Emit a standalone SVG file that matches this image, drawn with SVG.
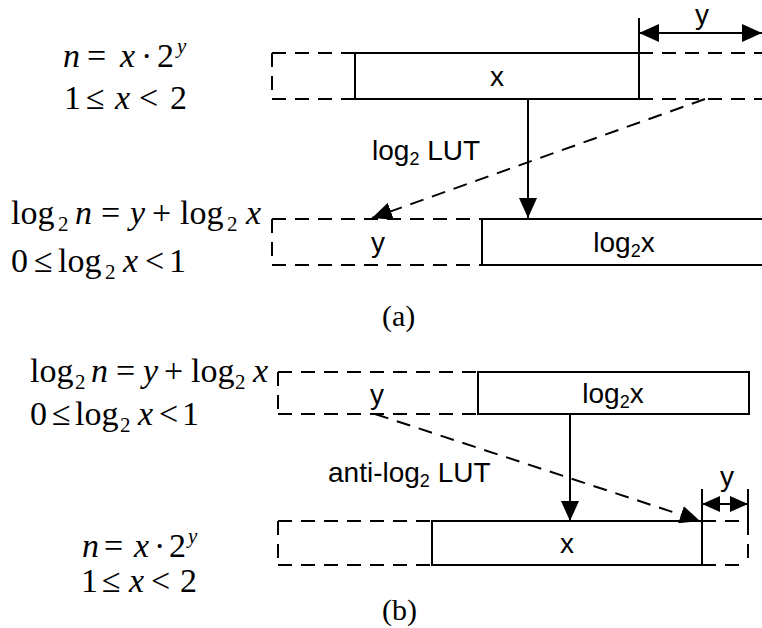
<svg xmlns="http://www.w3.org/2000/svg" width="762" height="628" viewBox="0 0 762 628">
<style>
.s{stroke:#000;stroke-width:2;fill:none}
.d{stroke:#000;stroke-width:2;fill:none;stroke-dasharray:14 9}
.eq{font-family:"Liberation Serif","Times New Roman",serif;font-size:34px;fill:#000}
.i{font-style:italic}
.sub{font-size:21px}
.sup{font-size:21px;font-style:italic}
.lb{font-family:"Liberation Sans",Arial,sans-serif;font-size:28px;fill:#000}
.lbs{font-size:18px}
.cap{font-family:"Liberation Serif","Noto Sans CJK JP",serif;font-size:30px;fill:#000}
</style>
<defs>
<marker id="ah" markerUnits="userSpaceOnUse" markerWidth="20" markerHeight="18" refX="20" refY="9" orient="auto-start-reverse"><path d="M0,0 L20,9 L0,18 z" fill="#000"/></marker>
<marker id="ahs" markerUnits="userSpaceOnUse" markerWidth="18" markerHeight="16" refX="18" refY="8" orient="auto-start-reverse"><path d="M0,0 L18,8 L0,16 z" fill="#000"/></marker>
</defs>

<g id="eq-a1">
<text class="eq" y="67"><tspan class="i" x="63">n</tspan><tspan x="87">=</tspan><tspan class="i" x="120">x</tspan><tspan x="141">·</tspan><tspan x="157">2</tspan><tspan class="sup" x="177" dy="-14">y</tspan></text>
<text class="eq" y="109"><tspan x="64">1</tspan><tspan x="86">≤</tspan><tspan class="i" x="115">x</tspan><tspan x="139">&lt;</tspan><tspan x="170">2</tspan></text>
</g>

<g id="reg-a-top">
<path class="d" d="M272,53 H355 M272,99 H355 M272,53 V99"/>
<rect class="s" x="355" y="53" width="284" height="46"/>
<path class="d" d="M639,53 H762 M639,99 H762"/>
<path class="s" d="M639,18 V99"/>
<text class="lb" x="497" y="86" text-anchor="middle">x</text>
<text class="lb" x="702" y="24" text-anchor="middle">y</text>
</g>

<g id="eq-a2">
<text class="eq" y="224"><tspan x="11">log</tspan><tspan class="sub" x="58" dy="7">2</tspan><tspan class="i" x="75" dy="-7">n</tspan><tspan x="101">=</tspan><tspan class="i" x="130">y</tspan><tspan x="152">+</tspan><tspan x="180">log</tspan><tspan class="sub" x="227" dy="7">2</tspan><tspan class="i" x="246" dy="-7">x</tspan></text>
<text class="eq" y="272"><tspan x="11">0</tspan><tspan x="34">≤</tspan><tspan x="58">log</tspan><tspan class="sub" x="105" dy="7">2</tspan><tspan class="i" x="123" dy="-7">x</tspan><tspan x="145">&lt;</tspan><tspan x="169">1</tspan></text>
</g>

<g id="reg-a-bot">
<path class="d" d="M272,219 H482 M272,265 H482 M272,219 V265"/>
<path class="s" d="M482,219 V265 M482,219 H762 M482,265 H762"/>
<text class="lb" x="378" y="252" text-anchor="middle">y</text>
<text class="lb" x="624" y="252" text-anchor="middle">log<tspan class="lbs" dy="5">2</tspan><tspan dy="-5">x</tspan></text>
</g>

<text class="lb" x="372" y="160">log<tspan class="lbs" dy="5">2</tspan><tspan dy="-5"> LUT</tspan></text>
<text class="cap" x="382" y="326">(a)</text>

<g id="eq-b1">
<text class="eq" y="382"><tspan x="30">log</tspan><tspan class="sub" x="75" dy="7">2</tspan><tspan class="i" x="91" dy="-7">n</tspan><tspan x="116">=</tspan><tspan class="i" x="143">y</tspan><tspan x="164">+</tspan><tspan x="191">log</tspan><tspan class="sub" x="235" dy="7">2</tspan><tspan class="i" x="253" dy="-7">x</tspan></text>
<text class="eq" y="425"><tspan x="30">0</tspan><tspan x="52">≤</tspan><tspan x="75">log</tspan><tspan class="sub" x="120" dy="7">2</tspan><tspan class="i" x="138" dy="-7">x</tspan><tspan x="159">&lt;</tspan><tspan x="182">1</tspan></text>
</g>

<g id="reg-b-top">
<path class="d" d="M278,372 H478 M278,414 H478 M278,372 V414"/>
<rect class="s" x="478" y="372" width="271" height="42"/>
<text class="lb" x="377" y="404" text-anchor="middle">y</text>
<text class="lb" x="613" y="403" text-anchor="middle">log<tspan class="lbs" dy="5">2</tspan><tspan dy="-5">x</tspan></text>
</g>

<text class="lb" x="328" y="482">anti-log<tspan class="lbs" dy="5">2</tspan><tspan dy="-5"> LUT</tspan></text>

<g id="eq-b2">
<text class="eq" y="557"><tspan class="i" x="82">n</tspan><tspan x="104">=</tspan><tspan class="i" x="134">x</tspan><tspan x="154">·</tspan><tspan x="169">2</tspan><tspan class="sup" x="188" dy="-14">y</tspan></text>
<text class="eq" y="592"><tspan x="81">1</tspan><tspan x="102">≤</tspan><tspan class="i" x="129">x</tspan><tspan x="151">&lt;</tspan><tspan x="180">2</tspan></text>
</g>

<g id="reg-b-bot">
<path class="d" d="M278,521 H432 M278,565 H432 M278,521 V565"/>
<rect class="s" x="432" y="521" width="270" height="44"/>
<path class="d" d="M702,521 H748 M702,565 H748 M748,521 V565"/>
<path class="s" d="M702,489 V521 M748,489 V521"/>
<text class="lb" x="727" y="486" text-anchor="middle">y</text>
<text class="lb" x="567" y="553" text-anchor="middle">x</text>
</g>

<text class="cap" x="382" y="620">(b)</text>

<g id="connectors">
<path class="s" d="M639,33 H762" marker-start="url(#ah)" marker-end="url(#ah)"/>
<path class="s" d="M528,99 V218" marker-end="url(#ah)"/>
<path class="d" d="M705,99 L372,218" marker-end="url(#ah)"/>
<path class="s" d="M570,414 V521" marker-end="url(#ah)"/>
<path class="d" d="M375,414 L700,521" marker-end="url(#ah)"/>
<path class="s" d="M702,504 H748" marker-start="url(#ahs)" marker-end="url(#ahs)"/>
</g>
</svg>
